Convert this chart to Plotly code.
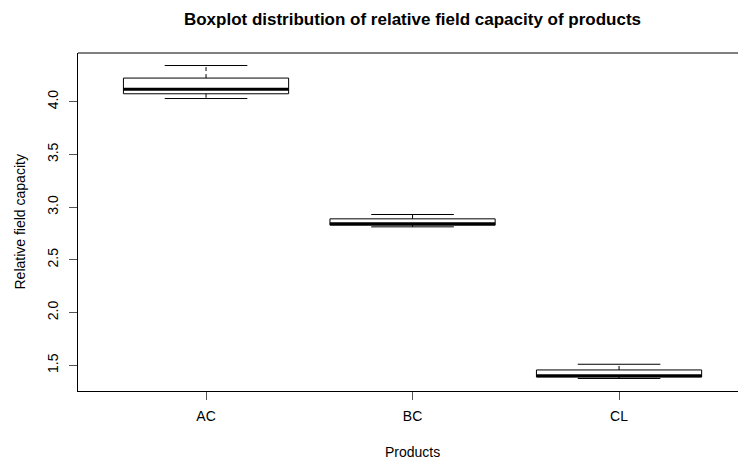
import plotly.graph_objects as go

products = ["AC", "BC", "CL"]
lower_whisker = [4.030, 2.813, 1.375]
q1 = [4.075, 2.829, 1.389]
median = [4.118, 2.842, 1.402]
q3 = [4.224, 2.889, 1.456]
upper_whisker = [4.343, 2.930, 1.510]
y_ticks = [1.5, 2.0, 2.5, 3.0, 3.5, 4.0]

pos = list(range(1, len(products) + 1))
half_box = 0.4
half_staple = 0.2

fig = go.Figure()

fig.add_trace(go.Box(
    x=pos, q1=q1, median=median, q3=q3,
    lowerfence=q1, upperfence=q3,
    width=2 * half_box, whiskerwidth=0,
    fillcolor="white", line=dict(color="black", width=1),
    boxpoints=False, hoverinfo="skip", showlegend=False,
))

# dashed whiskers
wx, wy = [], []
for p, lw, a, b, uw in zip(pos, lower_whisker, q1, q3, upper_whisker):
    wx += [p, p, None, p, p, None]
    wy += [a, lw, None, b, uw, None]
fig.add_trace(go.Scatter(x=wx, y=wy, mode="lines",
                         line=dict(color="black", width=1, dash="4px,3px"),
                         hoverinfo="skip", showlegend=False))

# staples
sx, sy = [], []
for p, lw, uw in zip(pos, lower_whisker, upper_whisker):
    sx += [p - half_staple, p + half_staple, None, p - half_staple, p + half_staple, None]
    sy += [lw, lw, None, uw, uw, None]
fig.add_trace(go.Scatter(x=sx, y=sy, mode="lines",
                         line=dict(color="black", width=1),
                         hoverinfo="skip", showlegend=False))

# thick medians
mx, my = [], []
for p, m in zip(pos, median):
    mx += [p - half_box, p + half_box, None]
    my += [m, m, None]
fig.add_trace(go.Scatter(x=mx, y=my, mode="lines",
                         line=dict(color="black", width=3),
                         hoverinfo="skip", showlegend=False))

lo, hi = min(lower_whisker), max(upper_whisker)
ext = 0.04 * (hi - lo)

L, T, B = 78, 53, 71
PW, PH = 738 - L, 462 - T - B

fig.update_layout(
    width=738, height=462,
    margin=dict(l=L, r=0, t=T, b=B),
    paper_bgcolor="white", plot_bgcolor="white",
    font=dict(family="Liberation Sans, Arial", size=14, color="black"),
    title=dict(text="<b>Boxplot distribution of relative field capacity of products</b>",
               x=412.5 / 738, xref="container", xanchor="center",
               y=1 - 19 / 462, yref="container", yanchor="middle",
               font=dict(size=17, color="black")),
    xaxis=dict(range=[0.38, 3.576], tickvals=pos, ticktext=products,
               showgrid=False, zeroline=False, showline=True, linecolor="black", linewidth=1,
               ticks="outside", ticklen=8, tickcolor="#555", tickwidth=1,
               tickfont=dict(size=14), ticklabelstandoff=4),
    yaxis=dict(range=[lo - ext, hi + ext], tickvals=y_ticks,
               ticktext=[f"{v:.1f}" for v in y_ticks],
               showgrid=False, zeroline=False, showline=True, linecolor="black", linewidth=1,
               ticks="outside", ticklen=8, tickcolor="#555", tickwidth=1,
               tickangle=-90, tickfont=dict(size=14), ticklabelstandoff=5),
    shapes=[dict(type="line", xref="paper", yref="paper", x0=0, x1=1, y0=1, y1=1,
                 line=dict(color="black", width=1))],
    annotations=[
        dict(text="Products", xref="paper", yref="paper", x=(412 - L) / PW,
             y=(462 - B - 452) / PH, xanchor="center", yanchor="middle", showarrow=False,
             font=dict(size=14)),
        dict(text="Relative field capacity", xref="paper", yref="paper",
             x=(19.5 - L) / PW, y=0.5, textangle=-90, xanchor="center", yanchor="middle",
             showarrow=False, font=dict(size=14)),
    ],
)

fig.write_html("out.html")
